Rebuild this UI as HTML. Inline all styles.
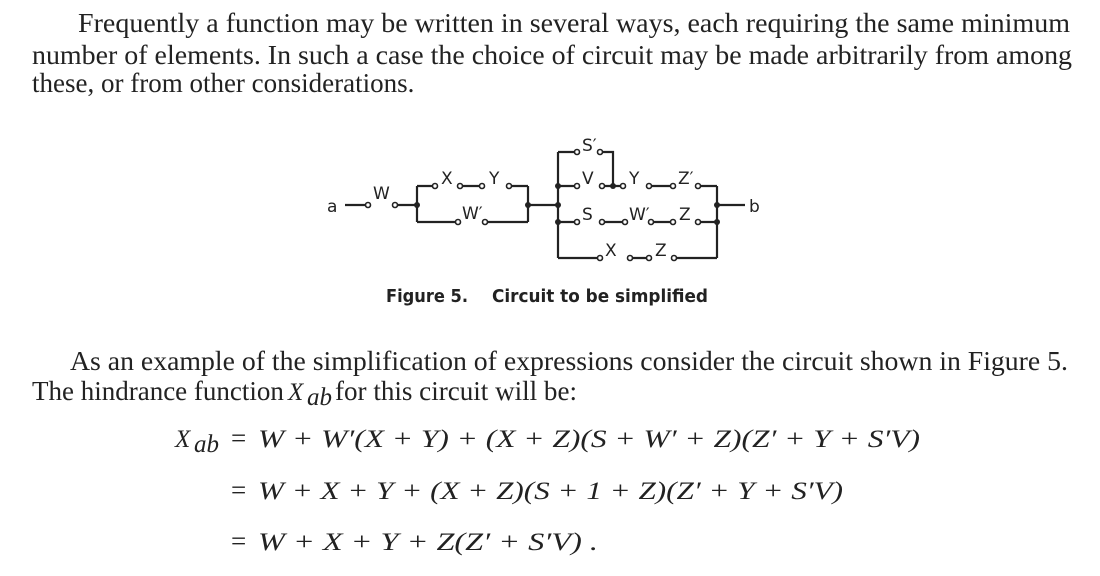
<!DOCTYPE html>
<html><head><meta charset="utf-8"><style>
html,body{margin:0;padding:0;background:#fff;}
svg{display:block}
.t{font-family:"Liberation Serif",serif;font-size:27px;fill:#222}
.i{font-family:"Liberation Serif",serif;font-size:25px;fill:#222;font-style:italic}
.c{font-family:"DejaVu Sans","Liberation Sans",sans-serif;font-size:17px;fill:#222}
.cap{font-family:"DejaVu Sans","Liberation Sans",sans-serif;font-size:18px;font-weight:bold;fill:#222}
</style></head><body>
<svg width="1100" height="576" viewBox="0 0 1100 576" xmlns="http://www.w3.org/2000/svg">
<text class="t" x="78" y="32" textLength="992" lengthAdjust="spacingAndGlyphs">Frequently a function may be written in several ways, each requiring the same minimum</text>
<text class="t" x="32" y="64" textLength="1040" lengthAdjust="spacingAndGlyphs">number of elements.  In such a case the choice of circuit may be made arbitrarily from among</text>
<text class="t" x="32" y="92">these, or from other considerations.</text>

<g stroke="#222" stroke-width="2.2" fill="none">
<path d="M345 205H366 M397 205H417 M417 186V222 M417 186H433 M462 186H480 M511 186H528 M417 222H456 M487 222H528 M528 186V222 M528 205H558 M558 152V258 M558 152H575 M602 152H613V186 M558 186H575 M604 186H621 M651 186H671 M700 186H717 M558 222H575 M604 222H623 M653 222H671 M700 222H717 M558 258H598 M632 258H647 M676 258H717 M717 186V258 M717 205H745"/>
</g>
<g stroke="#222" stroke-width="1.6" fill="#fff">
<circle cx="368" cy="205" r="2.5"/><circle cx="395" cy="205" r="2.5"/>
<circle cx="435" cy="186" r="2.5"/><circle cx="460" cy="186" r="2.5"/><circle cx="482" cy="186" r="2.5"/><circle cx="509" cy="186" r="2.5"/>
<circle cx="458" cy="222" r="2.5"/><circle cx="485" cy="222" r="2.5"/>
<circle cx="577" cy="152" r="2.5"/><circle cx="600" cy="152" r="2.5"/>
<circle cx="577" cy="186" r="2.5"/><circle cx="602" cy="186" r="2.5"/><circle cx="623" cy="186" r="2.5"/><circle cx="649" cy="186" r="2.5"/><circle cx="673" cy="186" r="2.5"/><circle cx="698" cy="186" r="2.5"/>
<circle cx="577" cy="222" r="2.5"/><circle cx="602" cy="222" r="2.5"/><circle cx="625" cy="222" r="2.5"/><circle cx="651" cy="222" r="2.5"/><circle cx="673" cy="222" r="2.5"/><circle cx="698" cy="222" r="2.5"/>
<circle cx="600" cy="258" r="2.5"/><circle cx="630" cy="258" r="2.5"/><circle cx="649" cy="258" r="2.5"/><circle cx="674" cy="258" r="2.5"/>
</g>
<g fill="#222">
<circle cx="417" cy="205" r="3"/><circle cx="528" cy="205" r="3"/><circle cx="558" cy="205" r="3"/><circle cx="558" cy="186" r="3"/><circle cx="558" cy="222" r="3"/><circle cx="613" cy="186" r="3"/><circle cx="717" cy="205" r="3"/><circle cx="717" cy="222" r="3"/>
</g>
<g class="c">
<text x="327" y="212">a</text><text x="749" y="212">b</text>
<text x="373" y="199">W</text>
<text x="441" y="184">X</text><text x="489" y="184">Y</text>
<text x="462" y="219">W′</text>
<text x="582" y="151">S′</text>
<text x="582" y="184">V</text><text x="629" y="184">Y</text><text x="678" y="184">Z′</text>
<text x="582" y="220">S</text><text x="629" y="220">W′</text><text x="679" y="220">Z</text>
<text x="605" y="256">X</text><text x="655" y="256">Z</text>
</g>
<text class="cap" x="386" y="302" textLength="82" lengthAdjust="spacingAndGlyphs">Figure 5.</text>
<text class="cap" x="492" y="302" textLength="216" lengthAdjust="spacingAndGlyphs">Circuit to be simplified</text>

<text class="t" x="70" y="370" textLength="998" lengthAdjust="spacingAndGlyphs">As an example of the simplification of expressions consider the circuit shown in Figure 5.</text>
<text class="t" x="32" y="400">The hindrance function</text>
<text class="i" x="288" y="400">X</text><text class="i" x="307" y="405" font-size="17">ab</text>
<text class="t" x="335" y="400" textLength="242" lengthAdjust="spacingAndGlyphs">for this circuit will be:</text>

<text class="i" x="175" y="447">X</text><text class="i" x="194" y="452" font-size="17">ab</text>
<text class="t" x="231" y="447">=</text>
<text class="i" x="258" y="447" textLength="662" lengthAdjust="spacingAndGlyphs">W + W′(X + Y) + (X + Z)(S + W′ + Z)(Z′ + Y + S′V)</text>
<text class="t" x="231" y="499">=</text>
<text class="i" x="258" y="499" textLength="585" lengthAdjust="spacingAndGlyphs">W + X + Y + (X + Z)(S + 1 + Z)(Z′ + Y + S′V)</text>
<text class="t" x="231" y="550">=</text>
<text class="i" x="258" y="550" textLength="340" lengthAdjust="spacingAndGlyphs">W + X + Y + Z(Z′ + S′V)  .</text>
</svg>
</body></html>
